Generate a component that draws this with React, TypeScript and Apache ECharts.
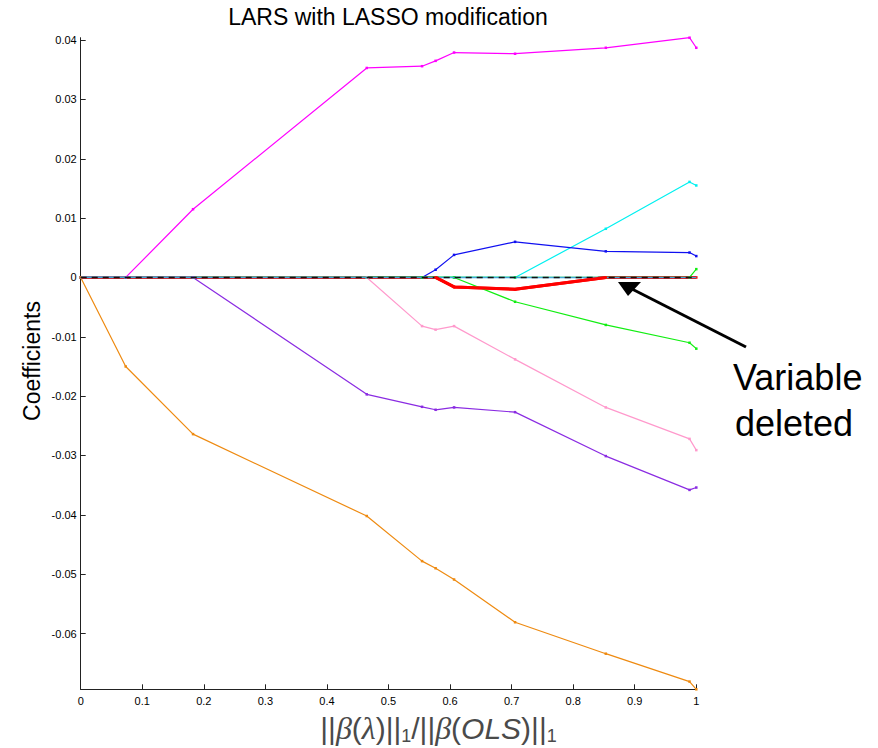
import React, { useEffect, useRef } from "react";
import * as echarts from "echarts";

// knots of the LARS/LASSO path: ||beta(lambda)||_1 / ||beta(OLS)||_1
const knots = [0, 0.0731, 0.1825, 0.4647, 0.5545, 0.5765, 0.6065, 0.7056, 0.853, 0.989, 1.0];

const magenta = [0, 0, 0.0115, 0.0353, 0.0356, 0.0365, 0.0379, 0.0377, 0.0387, 0.0404, 0.0387];
const cyan = [0, 0, 0, 0, 0, 0, 0, 0, 0.0082, 0.0161, 0.0155];
const blue = [0, 0, 0, 0, 0, 0.0013, 0.0038, 0.006, 0.0044, 0.0042, 0.0036];
const greenA = [0, 0, 0, 0, 0, 0, 0, -0.0041, -0.008, -0.011, -0.012];
const greenB = [0, 0, 0, 0, 0, 0, 0, 0, 0, 0, 0.0014];
const red = [0, 0, 0, 0, 0, 0, -0.0016, -0.002, 0, 0, 0];
const pink = [0, 0, 0, 0, -0.0082, -0.0088, -0.0082, -0.0138, -0.0219, -0.0272, -0.0291];
const purple = [0, 0, 0, -0.0197, -0.0218, -0.0223, -0.0219, -0.0227, -0.0301, -0.0358, -0.0354];
const orange = [0, -0.015, -0.0264, -0.0402, -0.0478, -0.049, -0.0509, -0.0581, -0.0634, -0.0681, -0.0694];

const baselineX = [0, 1];
const baselineY = [0, 0];

const yTicks = [0.04, 0.03, 0.02, 0.01, 0, -0.01, -0.02, -0.03, -0.04, -0.05, -0.06];
const yMin = -0.0694;
const yMax = 0.0404;

const FONT = "'Liberation Sans', Arial, Helvetica, sans-serif";

function lineSeries(name: string, values: number[], color: string, width: number) {
  return {
    name,
    type: "line",
    data: knots.map((x, i) => [x, values[i]]),
    symbol: "rect",
    symbolSize: 2.5,
    showSymbol: true,
    itemStyle: { color },
    lineStyle: { color, width },
    silent: true,
    z: 2,
  };
}

export default function App() {
  const ref = useRef<HTMLDivElement>(null);
  useEffect(() => {
    const chart = echarts.init(ref.current!, null, { renderer: "svg" });
    chart.setOption({
      animation: false,
      backgroundColor: "#ffffff",
      grid: { left: 80.7, right: 181.7, top: 37.7, bottom: 58.7 },
      xAxis: {
        type: "value",
        min: 0,
        max: 1,
        interval: 0.1,
        splitLine: { show: false },
        axisLine: { show: true, onZero: false, lineStyle: { color: "#222", width: 1 } },
        axisTick: { show: true, inside: true, length: 5, lineStyle: { color: "#222" } },
        axisLabel: {
          color: "#000",
          fontFamily: FONT,
          fontSize: 11,
          margin: 6,
          formatter: (v: number) => String(Math.round(v * 10) / 10),
        },
      },
      yAxis: {
        type: "value",
        min: yMin,
        max: yMax,
        splitLine: { show: false },
        axisLine: { show: true, onZero: false, lineStyle: { color: "#222", width: 1 } },
        axisTick: { show: true, inside: true, length: 5, customValues: yTicks, lineStyle: { color: "#222" } },
        axisLabel: {
          color: "#000",
          fontFamily: FONT,
          fontSize: 11,
          margin: 4,
          customValues: yTicks,
          formatter: (v: number) => String(Math.round(v * 100) / 100),
        },
      },
      series: [
        lineSeries("red", red, "#ff0000", 3),
        {
          name: "base",
          type: "line",
          data: baselineX.map((x, i) => [x, baselineY[i]]),
          symbol: "none",
          lineStyle: { color: "#3fa7d6", width: 1.6 },
          silent: true,
          z: 3,
        },
        {
          name: "baseDash",
          type: "line",
          data: baselineX.map((x, i) => [x, baselineY[i]]),
          symbol: "none",
          lineStyle: { color: "#111", width: 1.4, type: [6, 5] },
          silent: true,
          z: 4,
        },
        lineSeries("magenta", magenta, "#ff00ff", 1.2),
        lineSeries("cyan", cyan, "#00f0f0", 1.2),
        lineSeries("blue", blue, "#1010f0", 1.2),
        lineSeries("greenA", greenA, "#11ee11", 1.2),
        lineSeries("greenB", greenB, "#11ee11", 1.2),
        lineSeries("pink", pink, "#ff99cc", 1.2),
        lineSeries("purple", purple, "#8a2be2", 1.2),
        lineSeries("orange", orange, "#ee8a10", 1.2),
        { ...lineSeries("redTop", red, "#ff0000", 3), data: knots.slice(5, 9).map((x, i) => [x, red[i + 5]]), z: 5 },
      ],
      graphic: [
        {
          type: "text",
          x: 388,
          y: 17,
          style: {
            text: "LARS with LASSO modification",
            font: `23px ${FONT}`,
            fill: "#000",
            align: "center",
            verticalAlign: "middle",
          },
        },
        {
          type: "text",
          x: 32,
          y: 361,
          rotation: Math.PI / 2,
          style: {
            text: "Coefficients",
            font: `23px ${FONT}`,
            fill: "#000",
            align: "center",
            verticalAlign: "middle",
          },
        },
        {
          type: "text",
          x: 438.5,
          y: 728,
          style: {
            text: "{n|||}{b|β}{n|(}{b|λ}{n|)||}{s|1}{n|/||}{b|β}{n|(}{i|OLS}{n|)||}{s|1}",
            align: "center",
            verticalAlign: "middle",
            rich: {
              n: { fontFamily: FONT, fontSize: 30, fill: "#4a4a4a", lineHeight: 34 },
              b: { fontFamily: "'Liberation Serif', 'Times New Roman', serif", fontStyle: "italic", fontSize: 32, fill: "#4a4a4a", lineHeight: 34 },
              i: { fontFamily: FONT, fontStyle: "italic", fontSize: 30, fill: "#4a4a4a", lineHeight: 34 },
              s: { fontFamily: FONT, fontSize: 18, fill: "#4a4a4a", lineHeight: 22, verticalAlign: "bottom" },
            },
          },
        },
        {
          type: "text",
          x: 733,
          y: 377,
          style: {
            text: "Variable",
            font: `36px ${FONT}`,
            fill: "#000",
            align: "left",
            verticalAlign: "middle",
          },
        },
        {
          type: "text",
          x: 735,
          y: 423,
          style: {
            text: "deleted",
            font: `36px ${FONT}`,
            fill: "#000",
            align: "left",
            verticalAlign: "middle",
          },
        },
        {
          type: "line",
          shape: { x1: 746, y1: 347, x2: 632, y2: 289 },
          style: { stroke: "#000", lineWidth: 3 },
        },
        {
          type: "polygon",
          shape: { points: [[618, 282], [641, 282], [628, 296]] },
          style: { fill: "#000" },
        },
      ],
    });
    return () => chart.dispose();
  }, []);
  return (
    <div
      ref={ref}
      style={{ position: "fixed", left: 0, top: 0, width: 878, height: 748, background: "#fff" }}
    />
  );
}
